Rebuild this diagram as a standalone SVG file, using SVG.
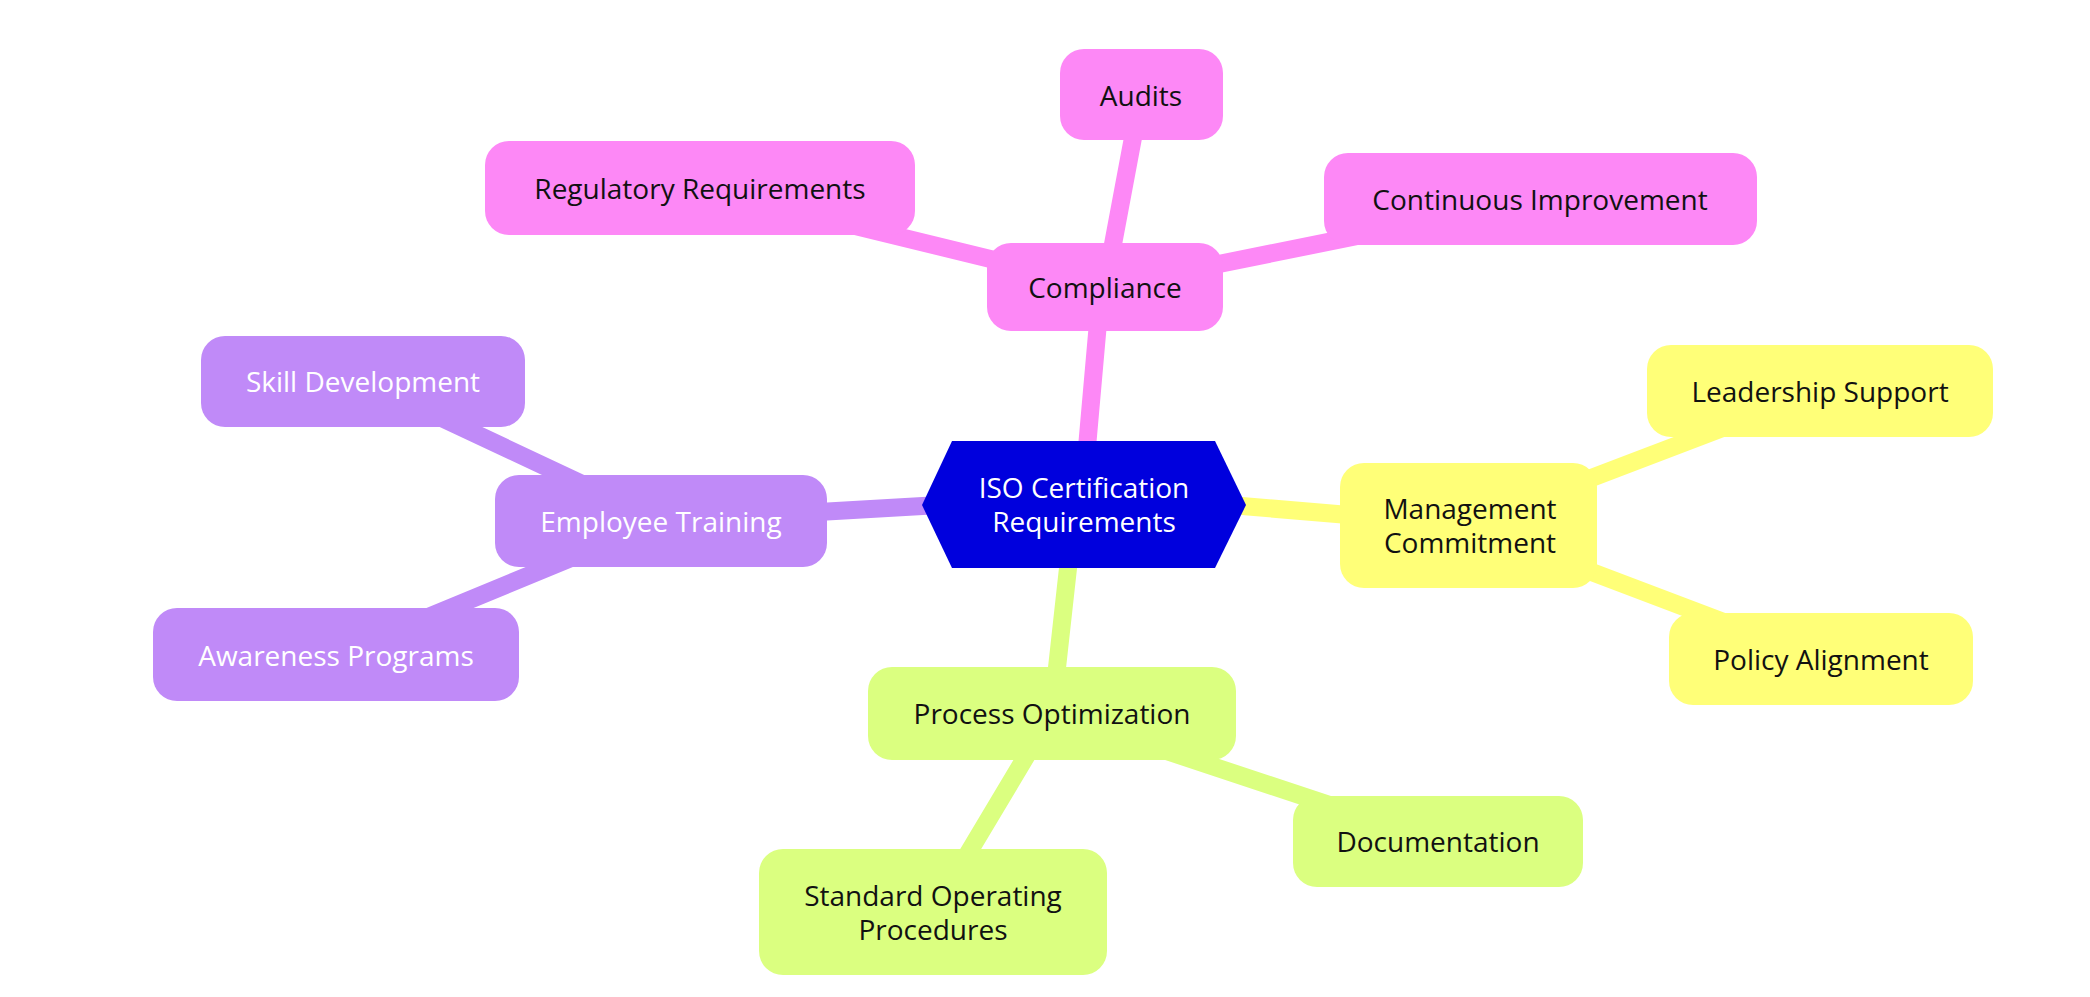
<svg xmlns="http://www.w3.org/2000/svg" width="2090" height="997" viewBox="0 0 2090 997">
<style>
text{font-family:"Open Sans","Liberation Sans",sans-serif;font-size:28px;text-anchor:middle;dominant-baseline:central}
.pk{fill:#fd88f6}.yl{fill:#ffff78}.gr{fill:#dbff80}.pu{fill:#c08af8}
.d{fill:#111}.w{fill:#fff}
#edges line{stroke-width:18;stroke-linecap:round}
.ep{stroke:#fd88f6}.ey{stroke:#ffff78}.eg{stroke:#dbff80}.eu{stroke:#c08af8}
</style>
<rect width="2090" height="997" fill="#fff"/>
<g id="edges">
<line class="ep" x1="1085" y1="470" x2="1100" y2="300"/>
<line class="ep" x1="1105" y1="287" x2="1141" y2="95"/>
<line class="ep" x1="1105" y1="287" x2="700" y2="188"/>
<line class="ep" x1="1105" y1="287" x2="1540" y2="199"/>
<line class="ey" x1="1230" y1="505" x2="1468" y2="525"/>
<line class="ey" x1="1468" y1="525" x2="1820" y2="391"/>
<line class="ey" x1="1468" y1="525" x2="1821" y2="659"/>
<line class="eg" x1="1070" y1="550" x2="1052" y2="713"/>
<line class="eg" x1="1052" y1="713" x2="1438" y2="841"/>
<line class="eg" x1="1052" y1="713" x2="933" y2="912"/>
<line class="eu" x1="940" y1="505" x2="661" y2="521"/>
<line class="eu" x1="661" y1="521" x2="363" y2="381"/>
<line class="eu" x1="661" y1="521" x2="336" y2="655"/>
</g>
<g id="center"><polygon points="922,505 952,441 1215,441 1246,505 1215,568 952,568" fill="#0000dd"/><text class="w" x="1084" y="487">ISO Certification</text><text class="w" x="1084" y="521">Requirements</text></g>
<g id="compliance"><rect class="pk" x="987" y="243" width="236" height="88" rx="24"/><text class="d" x="1105" y="287">Compliance</text></g>
<g id="audits"><rect class="pk" x="1060" y="49" width="163" height="91" rx="24"/><text class="d" x="1141" y="95">Audits</text></g>
<g id="regulatory"><rect class="pk" x="485" y="141" width="430" height="94" rx="24"/><text class="d" x="700" y="188">Regulatory Requirements</text></g>
<g id="continuous"><rect class="pk" x="1324" y="153" width="433" height="92" rx="24"/><text class="d" x="1540" y="199">Continuous Improvement</text></g>
<g id="management"><rect class="yl" x="1340" y="463" width="257" height="125" rx="24"/><text class="d" x="1470" y="508">Management</text><text class="d" x="1470" y="542">Commitment</text></g>
<g id="leadership"><rect class="yl" x="1647" y="345" width="346" height="92" rx="24"/><text class="d" x="1820" y="391">Leadership Support</text></g>
<g id="policy"><rect class="yl" x="1669" y="613" width="304" height="92" rx="24"/><text class="d" x="1821" y="659">Policy Alignment</text></g>
<g id="process"><rect class="gr" x="868" y="667" width="368" height="93" rx="24"/><text class="d" x="1052" y="713">Process Optimization</text></g>
<g id="documentation"><rect class="gr" x="1293" y="796" width="290" height="91" rx="24"/><text class="d" x="1438" y="841">Documentation</text></g>
<g id="sop"><rect class="gr" x="759" y="849" width="348" height="126" rx="24"/><text class="d" x="933" y="895">Standard Operating</text><text class="d" x="933" y="929">Procedures</text></g>
<g id="training"><rect class="pu" x="495" y="475" width="332" height="92" rx="24"/><text class="w" x="661" y="521">Employee Training</text></g>
<g id="skill"><rect class="pu" x="201" y="336" width="324" height="91" rx="24"/><text class="w" x="363" y="381">Skill Development</text></g>
<g id="awareness"><rect class="pu" x="153" y="608" width="366" height="93" rx="24"/><text class="w" x="336" y="655">Awareness Programs</text></g>
</svg>
